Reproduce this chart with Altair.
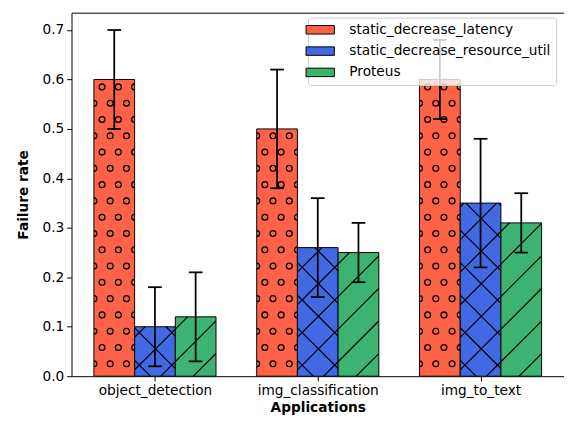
import altair as alt
import pandas as pd

# ---- data ----
apps = ["object_detection", "img_classification", "img_to_text"]
series = ["static_decrease_latency", "static_decrease_resource_util", "Proteus"]
latency = [0.60, 0.50, 0.60]
latency_err = [0.10, 0.12, 0.08]
resource_util = [0.10, 0.26, 0.35]
resource_util_err = [0.08, 0.10, 0.13]
proteus = [0.12, 0.25, 0.31]
proteus_err = [0.09, 0.06, 0.06]
y_ticks = [0.0, 0.1, 0.2, 0.3, 0.4, 0.5, 0.6, 0.7]

# ---- style ----
colors = ["#ff6347", "#4169e1", "#3cb371"]
hatches = ["o", "x", "/"]
FONT = "DejaVu Sans"
FS = 14
BAR_W = 0.25
X_DOM = [-0.5125, 2.5125]
Y_DOM = [0.0, 0.735]
W, H = 504, 372

values = [latency, resource_util, proteus]
errors = [latency_err, resource_util_err, proteus_err]


def to_px(u):
    return (u - X_DOM[0]) / (X_DOM[1] - X_DOM[0]) * W


def from_px(px):
    return X_DOM[0] + px / W * (X_DOM[1] - X_DOM[0])


def vy_px(v):
    return v / Y_DOM[1] * H


def from_py(py):
    return py / H * Y_DOM[1]


bar_rows, err_rows, circ_rows, line_rows = [], [], [], []
P_LINE = 100.0 / 3.0
P_CIRC = 100.0 / 6.0
for j, s in enumerate(series):
    for i, a in enumerate(apps):
        c = i + (j - 1) * BAR_W
        v = values[j][i]
        e = errors[j][i]
        bar_rows.append(dict(app=a, series=s, x0=c - BAR_W / 2, x1=c + BAR_W / 2,
                             value=v, zero=0.0))
        err_rows.append(dict(xc=c, lo=v - e, hi=v + e))
        L = to_px(c - BAR_W / 2)
        R = to_px(c + BAR_W / 2)
        T = vy_px(v)
        if hatches[j] == "o":
            k = 0
            while True:
                h = 12.7 + k * P_CIRC
                if h > T - 3:
                    break
                if k % 2 == 0:
                    offs = [(0.0, "rhalf"), (P_CIRC, "full"), (2 * P_CIRC, "full")]
                else:
                    offs = [(P_CIRC / 2, "full"), (1.5 * P_CIRC, "full"), (R - L, "lhalf")]
                for o, kind in offs:
                    circ_rows.append(dict(x=from_px(L + o), y=from_py(h), kind=kind))
                k += 1
        if hatches[j] in ("/", "x"):
            for k in range(-40, 40):
                cc = -24.67 + k * P_LINE
                lo = max(L, -cc)
                hi = min(R, T - cc)
                if hi - lo > 0.8:
                    line_rows.append(dict(xa=from_px(lo), ya=from_py(lo + cc),
                                          xb=from_px(hi), yb=from_py(hi + cc)))
        if hatches[j] == "x":
            for k in range(-40, 40):
                cc = 14.0 + k * P_LINE
                lo = max(L, cc - T)
                hi = min(R, cc)
                if hi - lo > 0.8:
                    line_rows.append(dict(xa=from_px(lo), ya=from_py(cc - lo),
                                          xb=from_px(hi), yb=from_py(cc - hi)))

bar_df = pd.DataFrame(bar_rows)
err_df = pd.DataFrame(err_rows)
circ_df = pd.DataFrame(circ_rows)
line_df = pd.DataFrame(line_rows)

xs = alt.Scale(domain=X_DOM, nice=False, zero=False)
ys = alt.Scale(domain=Y_DOM, nice=False, zero=False)
label_expr = "[" + ",".join("'" + a + "'" for a in apps) + "][datum.value]"
x_axis = alt.Axis(values=[0, 1, 2], labelExpr=label_expr, title="Applications",
                  grid=False, labelPadding=3, titlePadding=3)
y_axis = alt.Axis(values=y_ticks, format=".1f", title="Failure rate", grid=False,
                  labelPadding=3, titlePadding=12)


def X(f):
    return alt.X(f, scale=xs, axis=x_axis)


def Y(f):
    return alt.Y(f, scale=ys, axis=y_axis)


bars = alt.Chart(bar_df).mark_rect(stroke="black", strokeWidth=1).encode(
    x=X("x0:Q"), x2="x1:Q", y=Y("value:Q"), y2="zero:Q",
    fill=alt.Fill("series:N", scale=alt.Scale(domain=series, range=colors),
                  legend=alt.Legend(
                      title=None, orient="none", legendX=242, legendY=5,
                      symbolType="M-2.07,-0.62H2.07V0.62H-2.07Z", symbolSize=196,
                      symbolStrokeColor="black", symbolStrokeWidth=1,
                      symbolOpacity=1,
                      labelFont=FONT, labelFontSize=FS, labelColor="black",
                      labelOffset=22.3, labelLimit=400, rowPadding=6.8, padding=5,
                      fillColor="rgba(255,255,255,0.8)", strokeColor="#cccccc",
                      cornerRadius=3, zindex=1)),
)

circles = alt.Chart(circ_df).mark_point(filled=False, stroke="black", strokeWidth=1.3,
                                        size=36, opacity=1).encode(
    x=X("x:Q"), y=Y("y:Q"),
    shape=alt.Shape("kind:N", scale=alt.Scale(
        domain=["full", "rhalf", "lhalf"],
        range=["circle", "M0,-1A1,1,0,0,1,0,1", "M0,-1A1,1,0,0,0,0,1"]), legend=None),
)

lines = alt.Chart(line_df).mark_rule(color="black", strokeWidth=1.2).encode(
    x=X("xa:Q"), y=Y("ya:Q"), x2="xb:Q", y2="yb:Q",
)

err = alt.Chart(err_df).mark_rule(color="black", strokeWidth=1.8).encode(
    x=X("xc:Q"), y=Y("lo:Q"), y2="hi:Q",
)
cap_lo = alt.Chart(err_df).mark_tick(orient="horizontal", size=14, thickness=1.8,
                                     color="black", opacity=1).encode(
    x=X("xc:Q"), y=Y("lo:Q"))
cap_hi = alt.Chart(err_df).mark_tick(orient="horizontal", size=14, thickness=1.8,
                                     color="black", opacity=1).encode(
    x=X("xc:Q"), y=Y("hi:Q"))

chart = alt.layer(bars, circles, lines, err, cap_lo, cap_hi).properties(
    width=W, height=H,
    autosize=alt.AutoSizeParams(type="pad"),
    padding={"left": 8, "top": 0, "right": 0, "bottom": 0},
).configure_view(
    stroke="black", strokeWidth=1
).configure_axis(
    domain=False, tickColor="black", tickSize=5, tickWidth=1,
    labelFont=FONT, labelFontSize=FS, labelColor="black",
    titleFont=FONT, titleFontSize=FS, titleFontWeight="bold", titleColor="black",
)

chart.save("out.html", embed_options={"renderer": "svg", "actions": False})
